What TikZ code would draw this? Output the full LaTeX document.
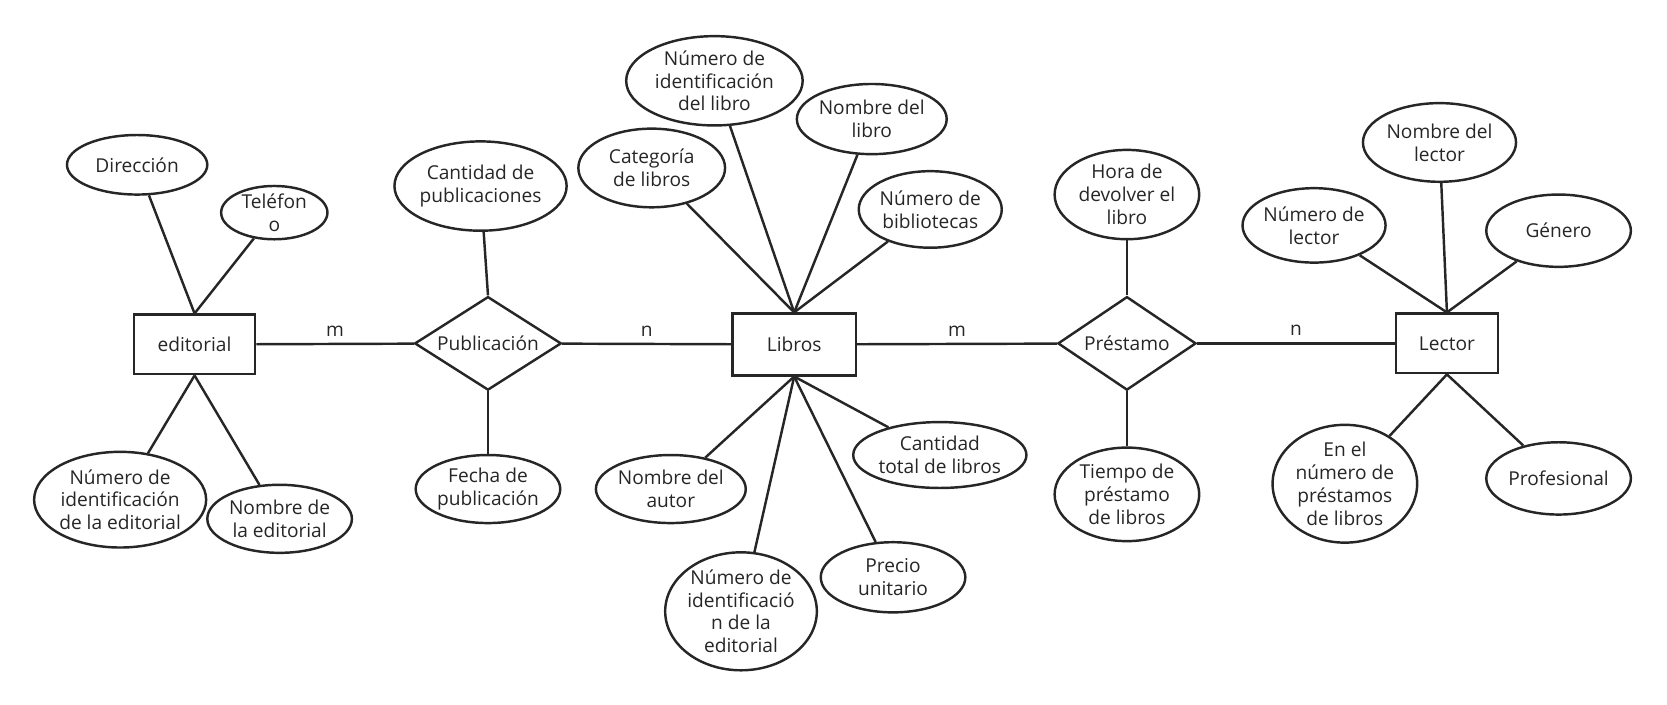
\documentclass[tikz,border=0pt]{standalone}
\usepackage{fontspec}
\setmainfont{Open Sans}
\usetikzlibrary{shapes.geometric}
\begin{document}
\begin{tikzpicture}[x=1pt,y=-1pt,
  every node/.style={font=\fontsize{18}{21.5}\selectfont,text=black!85,align=center,inner sep=0pt},
  ent/.style={draw=black!85,line width=2.3pt,rectangle,minimum height=56pt},
  rel/.style={draw=black!85,line width=2.3pt,diamond,aspect=1.6},
  attr/.style={draw=black!85,line width=2.3pt,ellipse},
  ln/.style={draw=black!85,line width=2.3pt}]
\useasboundingbox (0,0) rectangle (1568,663);
% entities and relations
\node[ent,minimum width=114pt] (ed) at (183,324) {editorial};
\node[rel,minimum width=138pt,minimum height=88pt] (pub) at (459,323) {Publicación};
\node[ent,minimum width=116pt,minimum height=58pt] (lib) at (747,324) {Libros};
\node[rel,minimum width=130pt,minimum height=88pt] (pre) at (1060,323) {Préstamo};
\node[ent,minimum width=96pt] (lec) at (1361,323) {Lector};
% attributes
\node[attr,minimum width=132pt,minimum height=56pt] (a1) at (129,155) {Dirección};
\node[attr,minimum width=100pt,minimum height=50pt] (a2) at (258,200) {Teléfon\\o};
\node[attr,minimum width=156pt,minimum height=90pt] (a3) at (113,470) {Número de\\identificación\\de la editorial};
\node[attr,minimum width=136pt,minimum height=64pt] (a4) at (263,488) {Nombre de\\la editorial};
\node[attr,minimum width=152pt,minimum height=84pt] (b1) at (452,175) {Cantidad de\\publicaciones};
\node[attr,minimum width=136pt,minimum height=64pt] (b2) at (459,460) {Fecha de\\publicación};
\node[attr,minimum width=138pt,minimum height=74pt] (c1) at (613,158) {Categoría\\de libros};
\node[attr,minimum width=166pt,minimum height=84pt] (c2) at (672,76) {Número de\\identificación\\del libro};
\node[attr,minimum width=136pt,minimum height=66pt] (c3) at (820,112) {Nombre del\\libro};
\node[attr,minimum width=124pt,minimum height=72pt] (c4) at (875,197) {Número de\\bibliotecas};
\node[attr,minimum width=138pt,minimum height=64pt] (c5) at (631,460) {Nombre del\\autor};
\node[attr,minimum width=134pt,minimum height=110pt] (c6) at (697,575) {Número de\\identificació\\n de la\\editorial};
\node[attr,minimum width=136pt,minimum height=66pt] (c7) at (840,543) {Precio\\unitario};
\node[attr,minimum width=152pt,minimum height=62pt] (c8) at (884,428) {Cantidad\\total de libros};
\node[attr,minimum width=136pt,minimum height=84pt] (d1) at (1060,183) {Hora de\\devolver el\\libro};
\node[attr,minimum width=136pt,minimum height=88pt] (d2) at (1060,465) {Tiempo de\\préstamo\\de libros};
\node[attr,minimum width=144pt,minimum height=74pt] (e1) at (1354,134) {Nombre del\\lector};
\node[attr,minimum width=132pt,minimum height=70pt] (e2) at (1236,212) {Número de\\lector};
\node[attr,minimum width=136pt,minimum height=68pt] (e3) at (1466,217) {Género};
\node[attr,minimum width=136pt,minimum height=100pt] (e4) at (1265,455) {En el\\número de\\préstamos\\de libros};
\node[attr,minimum width=136pt,minimum height=68pt] (e5) at (1466,450) {Profesional};
% main lines
\draw[ln] (ed) -- (pub) node[pos=0.5,above=6pt] {m};
\draw[ln] (pub) -- (lib) node[pos=0.5,above=6pt] {n};
\draw[ln] (lib) -- (pre) node[pos=0.5,above=6pt] {m};
\draw[ln] (pre) -- (lec) node[pos=0.5,above=6pt] {n};
% attribute lines
\foreach \a in {a1,a2} \draw[ln] (\a) -- (ed.north);
\foreach \a in {a3,a4} \draw[ln] (\a) -- (ed.south);
\draw[ln] (b1) -- (pub.north);
\draw[ln] (b2) -- (pub.south);
\foreach \a in {c1,c2,c3,c4} \draw[ln] (\a) -- (lib.north);
\foreach \a in {c5,c6,c7,c8} \draw[ln] (\a) -- (lib.south);
\draw[ln] (d1) -- (pre.north);
\draw[ln] (d2) -- (pre.south);
\foreach \a in {e1,e2,e3} \draw[ln] (\a) -- (lec.north);
\foreach \a in {e4,e5} \draw[ln] (\a) -- (lec.south);
\end{tikzpicture}
\end{document}
